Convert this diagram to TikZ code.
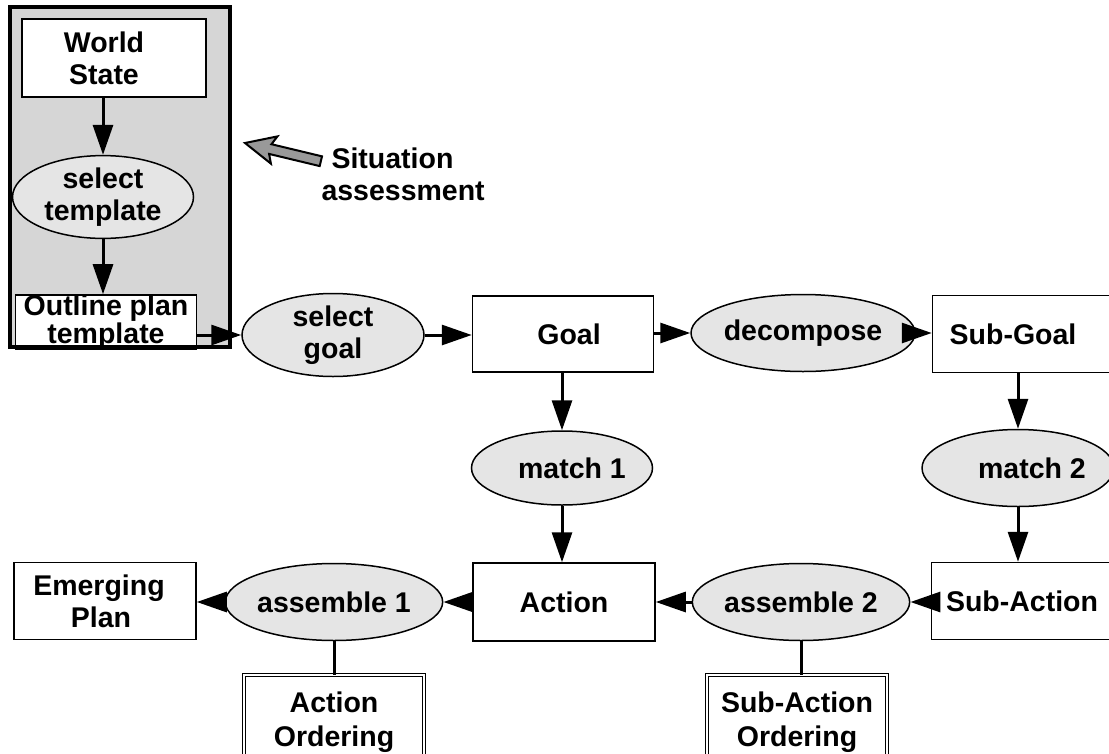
\documentclass[tikz,border=0pt]{standalone}
\usepackage{fontspec}
\setmainfont{Liberation Sans}
\usetikzlibrary{arrows.meta,shapes.geometric}
\tikzstyle{boxNode}=[shape = rectangle, draw, line width = 1.5pt, fill = white, minimum width = 182pt, minimum height = 78pt, align = center, inner sep = 0pt]
\tikzstyle{ellNode}=[shape = ellipse, draw, line width = 1.5pt, fill = black!10, minimum width = 181pt, minimum height = 76pt, align = center, inner sep = 0pt]
\tikzstyle{orderNode}=[shape = rectangle, draw, double, double distance = 2.5pt, line width = 1pt, fill = white, minimum width = 180pt, minimum height = 94pt, align = center, inner sep = 0pt, font = \fontsize{28.5}{34}\selectfont\bfseries]
\tikzstyle{flow}=[line width = 3pt, -{Triangle[length=30pt, width=20pt]}]
\tikzstyle{link}=[line width = 3pt]

\begin{document}
\begin{tikzpicture}[x = 1pt, y = -1pt, every node/.style = {font = \fontsize{28.5}{32}\selectfont\bfseries}]
\useasboundingbox (0,0) rectangle (1109,753);
\clip (0,0) rectangle (1109,753);
\fill[black!16] (10,7) rectangle (230,347);
\node[boxNode, minimum width = 184pt] (ws) at (114,58) {World\hspace*{20pt}\\State\hspace*{20pt}};
\node[ellNode, minimum height = 75pt] (stpl) at (103,197) {select\\template};
\node[boxNode, minimum width = 181pt, minimum height = 53pt, font = \fontsize{28.5}{24}\selectfont\bfseries] (outl) at (106,322) {Outline plan\\template};
\draw[line width = 4pt] (10,7) rectangle (230,347);
\begin{scope}[shift = {(245,143)}, rotate = 166.5]
\draw[line width = 2pt, fill = black!40, line join = miter] (0,0) -- (-30,-14) -- (-26,-5) -- (-78,-5) -- (-78,5) -- (-26,5) -- (-30,14) -- cycle;
\end{scope}
\node[align = left, anchor = west] (sit) at (318,174) {\hspace*{10pt}Situation\\assessment};
\node[ellNode, minimum width = 182pt, minimum height = 75pt] (sgoal) at (333,335) {select\\goal};
\node[boxNode, minimum width = 181pt, minimum height = 76pt] (goal) at (563,334) {\hspace*{12pt}Goal};
\node[ellNode, minimum width = 180pt, minimum height = 77pt] (dec) at (803,333) {decompose};
\node[boxNode, minimum width = 181pt, minimum height = 77pt] (sgl) at (1023,334) {Sub-Goal\hspace*{20pt}};
\node[ellNode, minimum height = 74pt] (m1) at (562,468) {\hspace*{20pt}match 1};
\node[ellNode, minimum width = 176pt, minimum height = 77pt] (m2) at (1018,468) {\hspace*{28pt}match 2};
\node[boxNode] (act) at (564,602) {Action};
\node[boxNode, minimum width = 181pt, minimum height = 77pt] (sact) at (1022,601) {Sub-Action};
\node[ellNode, minimum height = 77pt] (as2) at (801,602) {assemble 2};
\node[ellNode, minimum width = 182pt, minimum height = 77pt] (as1) at (334,602) {assemble 1};
\node[boxNode, minimum height = 77pt] (emp) at (105,601) {Emerging\hspace*{12pt}\\Plan\hspace*{8pt}};
\node[orderNode] (aord) at (334,722) {Action\\Ordering};
\node[orderNode] (sord) at (797,722) {Sub-Action\\Ordering};
\draw[flow] (stpl |- ws.south) -- (stpl);
\draw[flow] (stpl) -- (stpl |- outl.north);
\draw[flow] (outl.east |- sgoal) -- (sgoal);
\draw[flow] (sgoal) -- (sgoal -| goal.west);
\draw[flow] (goal.east |- dec) -- (dec);
\draw[flow] (dec) -- (dec -| sgl.west);
\draw[flow] (m1 |- goal.south) -- (m1);
\draw[flow] (m1) -- (m1 |- act.north);
\draw[flow] (m2 |- sgl.south) -- (m2);
\draw[flow] (m2) -- (m2 |- sact.north);
\draw[flow] (sact.west |- as2) -- (as2);
\draw[flow] (as2) -- (as2 -| act.east);
\draw[flow] (act.west |- as1) -- (as1);
\draw[flow] (as1) -- (as1 -| emp.east);
\draw[link] (as1) -- (as1 |- aord.north);
\draw[link] (as2) -- (as2 |- sord.north);
\end{tikzpicture}
\end{document}
